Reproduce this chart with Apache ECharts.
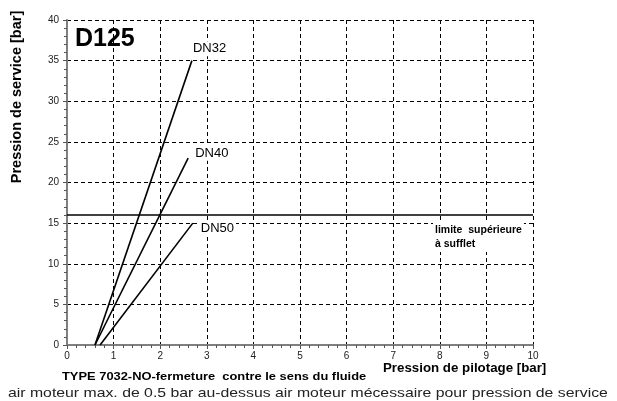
<!DOCTYPE html>
<html><head><meta charset="utf-8">
<script src="https://cdn.jsdelivr.net/npm/echarts@6/dist/echarts.min.js"></script>
<style>html,body{margin:0;padding:0;background:#fff}#c{width:617px;height:401px}</style>
</head><body><div id="c"></div>
<script>
const seriesNames = ['DN32','DN40','DN50'];
const dn32 = [[0.6,0],[2.68,35]];
const dn40 = [[0.6,0],[2.6,23]];
const dn50 = [[0.71,0],[2.7,15]];
const limitLine = [[0,16],[10,16]];
const xTicks = [0,1,2,3,4,5,6,7,8,9,10];
const yTicks = [0,5,10,15,20,25,30,35,40];

const F = 'Liberation Sans, Arial, sans-serif';
const chart = echarts.init(document.getElementById('c'), null, {renderer:'canvas'});
function mk(name, data, ox, oy){
  return {type:'line', name:name, symbol:'none', silent:true, animation:false, z:5,
    lineStyle:{color:'#000', width:1.6},
    data: data,
    endLabel:{show:true, formatter:name, color:'#000', fontFamily:F, fontSize:13,
      backgroundColor:'#fff', padding:[1,2], offset:[ox,oy], distance:2}};
}
chart.setOption({
  animation:false,
  grid:{left:67, right:84, top:20, bottom:56},
  xAxis:{type:'value', min:0, max:10, interval:1,
    axisLine:{lineStyle:{color:'#7f7f7f', width:2}},
    axisTick:{show:true, length:4, lineStyle:{color:'#555'}},
    minorTick:{show:true, splitNumber:5, length:3, lineStyle:{color:'#555'}},
    axisLabel:{color:'#222', fontFamily:F, fontSize:10, margin:6,
      formatter:v=> xTicks.includes(v)? String(v):''},
    splitLine:{show:true, lineStyle:{color:'#000', type:[4,3], width:1}}},
  yAxis:{type:'value', min:0, max:40, interval:5,
    axisLine:{show:true, lineStyle:{color:'#7f7f7f', width:2}},
    axisTick:{show:true, length:4, lineStyle:{color:'#555'}},
    minorTick:{show:true, splitNumber:5, length:3, lineStyle:{color:'#555'}},
    axisLabel:{color:'#222', fontFamily:F, fontSize:10, margin:8,
      formatter:v=> yTicks.includes(v)? String(v):''},
    splitLine:{show:true, lineStyle:{color:'#000', type:[4,3], width:1}}},
  series:[
    mk(seriesNames[0], dn32, -3, -12),
    mk(seriesNames[1], dn40, 3, -5),
    mk(seriesNames[2], dn50, 4, 5),
    {type:'line', symbol:'none', silent:true, data:limitLine, z:4,
      lineStyle:{color:'#000', width:1.6}}
  ],
  graphic:[
    {type:'text', left:75, top:27, z:100, style:{text:'D125', font:'bold 25px '+F, fill:'#000'}},
    {type:'text', left:433, top:222, z:100, style:{text:'limite  supérieure\nà sufflet', font:'bold 10.5px '+F, fill:'#000', lineHeight:14, backgroundColor:'#fff', padding:[1,2]}},
    {type:'text', x:17, y:97, z:100, rotation:Math.PI/2, style:{text:'Pression de service [bar]', font:'bold 14.5px '+F, fill:'#000', align:'center', verticalAlign:'middle'}},
    {type:'text', left:383, top:362, z:100, style:{text:'Pression de pilotage [bar]', font:'bold 13.3px '+F, fill:'#000'}},
    {type:'text', x:62, y:377, z:100, scaleX:1.12, style:{text:'TYPE 7032-NO-fermeture  contre le sens du fluide', font:'bold 11.5px '+F, fill:'#000', verticalAlign:'middle'}},
    {type:'text', x:8, y:393, z:100, scaleX:1.18, style:{text:'air moteur max. de 0.5 bar au-dessus air moteur mécessaire pour pression de service', font:'13.4px '+F, fill:'#222', verticalAlign:'middle'}}
  ]
});
</script></body></html>
